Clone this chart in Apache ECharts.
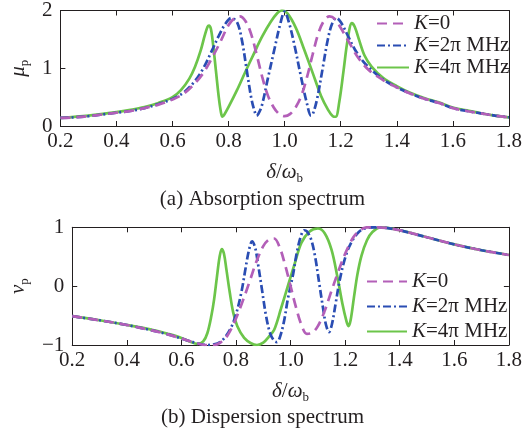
<!DOCTYPE html>
<html>
<head>
<meta charset="utf-8">
<script src="https://cdn.jsdelivr.net/npm/echarts@6/dist/echarts.min.js"></script>
<style>
  html, body { margin: 0; padding: 0; background: #ffffff; }
  #chart { width: 525px; height: 434px; }
</style>
</head>
<body>
<div id="chart"></div>
<script>
// ---- Absorption spectrum (panel a) ----
const absX_K0 = [0.20,0.25,0.30,0.35,0.40,0.45,0.50,0.55,0.60,0.64,0.68,0.71,0.74,0.77,0.80,0.82,0.84,0.86,0.88,0.90,0.92,0.94,0.96,0.98,1.00,1.02,1.04,1.06,1.08,1.10,1.12,1.14,1.16,1.18,1.20,1.23,1.26,1.30,1.35,1.40,1.45,1.50,1.55,1.60,1.65,1.70,1.75,1.80];
const absY_K0 = [0.14,0.15,0.17,0.20,0.23,0.26,0.31,0.37,0.46,0.56,0.74,0.92,1.17,1.45,1.75,1.86,1.90,1.82,1.60,1.24,0.85,0.53,0.33,0.21,0.17,0.21,0.33,0.53,0.85,1.24,1.60,1.82,1.90,1.85,1.70,1.45,1.20,0.97,0.80,0.67,0.56,0.47,0.40,0.31,0.26,0.22,0.18,0.15];

const absX_K2 = [0.20,0.25,0.30,0.35,0.40,0.45,0.50,0.55,0.60,0.64,0.68,0.71,0.74,0.765,0.79,0.81,0.83,0.847,0.865,0.882,0.895,0.90,0.905,0.918,0.94,0.965,0.985,1.00,1.015,1.035,1.058,1.08,1.094,1.10,1.115,1.135,1.155,1.17,1.185,1.20,1.225,1.25,1.28,1.31,1.35,1.40,1.45,1.50,1.55,1.60,1.65,1.70,1.75,1.80];
const absY_K2 = [0.14,0.15,0.17,0.20,0.23,0.26,0.31,0.38,0.47,0.58,0.78,1.00,1.30,1.56,1.78,1.87,1.80,1.50,0.96,0.46,0.22,0.18,0.20,0.34,0.82,1.36,1.78,1.98,1.80,1.40,0.86,0.38,0.18,0.20,0.45,0.98,1.52,1.78,1.87,1.80,1.57,1.33,1.12,0.97,0.81,0.67,0.56,0.47,0.40,0.31,0.26,0.22,0.18,0.15];

const absX_K4 = [0.20,0.30,0.40,0.45,0.50,0.55,0.60,0.63,0.66,0.68,0.70,0.715,0.725,0.73,0.737,0.745,0.755,0.765,0.772,0.778,0.785,0.80,0.83,0.86,0.89,0.92,0.95,0.975,0.99,1.01,1.04,1.07,1.10,1.13,1.155,1.172,1.182,1.195,1.21,1.225,1.24,1.25,1.265,1.285,1.31,1.35,1.40,1.45,1.50,1.55,1.60,1.65,1.70,1.75,1.80];
const absY_K4 = [0.14,0.18,0.24,0.28,0.33,0.40,0.50,0.62,0.82,1.02,1.30,1.57,1.72,1.74,1.68,1.40,0.95,0.50,0.26,0.16,0.20,0.33,0.62,0.94,1.25,1.55,1.80,1.96,2.00,1.95,1.70,1.32,0.92,0.52,0.28,0.17,0.16,0.42,0.95,1.50,1.78,1.72,1.50,1.22,1.03,0.84,0.69,0.57,0.48,0.41,0.32,0.27,0.22,0.18,0.15];

// ---- Dispersion spectrum (panel b) ----
const disX_K0 = [0.20,0.30,0.40,0.50,0.55,0.60,0.65,0.69,0.72,0.745,0.77,0.80,0.825,0.85,0.875,0.90,0.92,0.94,0.96,0.98,1.00,1.02,1.04,1.06,1.08,1.10,1.125,1.15,1.175,1.20,1.23,1.255,1.28,1.31,1.35,1.40,1.50,1.60,1.70,1.80];
const disY_K0 = [-0.51,-0.58,-0.66,-0.76,-0.82,-0.89,-0.96,-1.00,-1.00,-0.95,-0.83,-0.55,-0.25,0.08,0.42,0.68,0.79,0.81,0.66,0.36,0.00,-0.36,-0.66,-0.81,-0.79,-0.68,-0.42,-0.08,0.25,0.55,0.83,0.95,1.00,1.00,0.99,0.95,0.83,0.71,0.61,0.53];

const disX_K2 = [0.20,0.30,0.40,0.50,0.55,0.60,0.65,0.69,0.72,0.75,0.78,0.80,0.82,0.835,0.848,0.859,0.87,0.88,0.895,0.91,0.925,0.94,0.95,0.96,0.975,0.99,1.00,1.01,1.025,1.04,1.05,1.06,1.075,1.09,1.105,1.12,1.13,1.141,1.152,1.165,1.18,1.20,1.22,1.25,1.28,1.31,1.35,1.40,1.50,1.60,1.70,1.80];
const disY_K2 = [-0.51,-0.58,-0.66,-0.76,-0.82,-0.89,-0.96,-1.00,-0.99,-0.92,-0.72,-0.48,-0.10,0.30,0.62,0.76,0.66,0.40,-0.05,-0.50,-0.80,-0.93,-0.95,-0.88,-0.62,-0.22,0.00,0.22,0.62,0.88,0.95,0.93,0.80,0.50,0.05,-0.40,-0.66,-0.78,-0.64,-0.30,0.10,0.48,0.72,0.92,0.99,1.00,0.99,0.95,0.83,0.71,0.61,0.53];

const disX_K4 = [0.20,0.30,0.40,0.50,0.55,0.60,0.63,0.66,0.68,0.695,0.71,0.72,0.73,0.74,0.748,0.756,0.765,0.777,0.79,0.805,0.83,0.855,0.877,0.90,0.92,0.94,0.965,0.99,1.015,1.04,1.07,1.10,1.125,1.15,1.172,1.19,1.205,1.212,1.22,1.232,1.245,1.26,1.28,1.30,1.33,1.40,1.50,1.60,1.70,1.80];
const disY_K4 = [-0.51,-0.58,-0.66,-0.75,-0.81,-0.88,-0.94,-0.98,-0.94,-0.80,-0.50,-0.22,0.15,0.50,0.63,0.55,0.28,-0.10,-0.45,-0.68,-0.88,-0.97,-1.00,-0.96,-0.86,-0.74,-0.38,0.00,0.38,0.74,0.93,0.98,0.90,0.62,0.15,-0.30,-0.60,-0.68,-0.58,-0.20,0.20,0.52,0.78,0.92,1.00,0.95,0.83,0.71,0.61,0.53];

// ---- Axes ticks and labels ----
const xTicks = { min: 0.2, max: 1.8, step: 0.2 };
const absTicks = { min: 0, max: 2, step: 1 };
const disTicks = { min: -1, max: 1, step: 1 };
const seriesNames = ['K=0', 'K=2π MHz', 'K=4π MHz'];
const captions = ['(a) Absorption spectrum', '(b) Dispersion spectrum'];

const zip = (xs, ys) => xs.map((x, i) => [x, ys[i]]);

const FONT = 'Liberation Serif';
const TXT = '#231f20';
const COLORS = ['#b35fb8', '#2a4db3', '#6cc54a'];
const DASHES = [[10, 6], [8, 3, 2, 3], 'solid'];

const fmtNum = v => (v < 0 ? '\u2212' + Math.abs(v) : String(v));

function xAxes(gridIndex) {
  const common = {
    gridIndex, type: 'value', min: xTicks.min, max: xTicks.max, interval: xTicks.step,
    axisLine: { show: true, onZero: false, lineStyle: { color: '#231f20', width: 1 } },
    axisTick: { show: true, inside: true, length: 5, lineStyle: { color: '#231f20' } },
    splitLine: { show: false }
  };
  return [
    Object.assign({}, common, {
      position: 'bottom',
      axisLabel: { margin: 5, fontFamily: FONT, fontSize: 21, color: TXT, formatter: v => v.toFixed(1) },
      name: '{i|δ}/{i|ω}{s|b}', nameLocation: 'middle', nameGap: 34,
      nameTextStyle: {
        fontFamily: FONT, fontSize: 21, color: TXT,
        rich: {
          i: { fontFamily: FONT, fontSize: 21, fontStyle: 'italic', color: TXT },
          s: { fontFamily: FONT, fontSize: 13, color: TXT, padding: [12, 0, 0, 0] }
        }
      }
    }),
    Object.assign({}, common, { position: 'top', axisLabel: { show: false } })
  ];
}

function yAxes(gridIndex, t, sym) {
  const common = {
    gridIndex, type: 'value', min: t.min, max: t.max, interval: t.step,
    axisLine: { show: true, onZero: false, lineStyle: { color: '#231f20', width: 1 } },
    axisTick: { show: true, inside: true, length: 5, lineStyle: { color: '#231f20' } },
    splitLine: { show: false }
  };
  return [
    Object.assign({}, common, {
      position: 'left',
      axisLabel: { margin: 8, fontFamily: FONT, fontSize: 21, color: TXT, formatter: fmtNum },
      name: '{i|' + sym + '}{s|p}', nameLocation: 'middle', nameRotate: 90, nameGap: 28,
      nameTextStyle: {
        fontFamily: FONT, fontSize: 21, color: TXT,
        rich: {
          i: { fontFamily: FONT, fontSize: 21, fontStyle: 'italic', color: TXT },
          s: { fontFamily: FONT, fontSize: 13, color: TXT, padding: [12, 0, 0, 0] }
        }
      }
    }),
    Object.assign({}, common, { position: 'right', axisLabel: { show: false } })
  ];
}

function lineSeries(name, idx, xAxisIndex, yAxisIndex, data) {
  return {
    name, type: 'line', xAxisIndex, yAxisIndex, data,
    symbol: 'none', showSymbol: false, smooth: 0.35, animation: false,
    lineStyle: { color: COLORS[idx], width: 2.7, type: DASHES[idx] },
    itemStyle: { color: COLORS[idx] },
    z: 3 - idx + 2
  };
}

const legendText = {
  fontFamily: FONT, fontSize: 21, color: TXT,
  rich: { i: { fontFamily: FONT, fontSize: 21, fontStyle: 'italic', color: TXT } }
};
const legendFmt = name => '{i|K}' + name.slice(1);

const chart = echarts.init(document.getElementById('chart'), null, { renderer: 'canvas' });
chart.setOption({
  backgroundColor: '#ffffff',
  animation: false,
  grid: [
    { left: 56.7, top: 7.3, width: 453.3, height: 118.7 },
    { left: 56.7, top: 227.3, width: 453.3, height: 117.7 }
  ],
  xAxis: xAxes(0).concat(xAxes(1)),
  yAxis: yAxes(0, absTicks, 'μ').concat(yAxes(1, disTicks, 'ν')),
  legend: [
    {
      data: seriesNames, orient: 'vertical', left: 376, top: 13, itemGap: 1,
      itemWidth: 32, itemHeight: 14, textStyle: legendText, formatter: legendFmt,
      itemStyle: { opacity: 0 }, selectedMode: false, padding: 0
    },
    {
      data: seriesNames, orient: 'vertical', left: 366, top: 271, itemGap: 4,
      itemWidth: 40, itemHeight: 14, textStyle: legendText, formatter: legendFmt,
      itemStyle: { opacity: 0 }, selectedMode: false, padding: 0
    }
  ],
  series: [
    lineSeries(seriesNames[0], 0, 0, 0, zip(absX_K0, absY_K0)),
    lineSeries(seriesNames[1], 1, 0, 0, zip(absX_K2, absY_K2)),
    lineSeries(seriesNames[2], 2, 0, 0, zip(absX_K4, absY_K4)),
    lineSeries(seriesNames[0], 0, 2, 2, zip(disX_K0, disY_K0)),
    lineSeries(seriesNames[1], 1, 2, 2, zip(disX_K2, disY_K2)),
    lineSeries(seriesNames[2], 2, 2, 2, zip(disX_K4, disY_K4))
  ],
  graphic: [
    { type: 'text', left: 'center', top: 189, style: { text: captions[0], font: '21px "Liberation Serif"', fill: TXT } },
    { type: 'text', left: 'center', top: 407, style: { text: captions[1], font: '21px "Liberation Serif"', fill: TXT } }
  ]
});
</script>
</body>
</html>
